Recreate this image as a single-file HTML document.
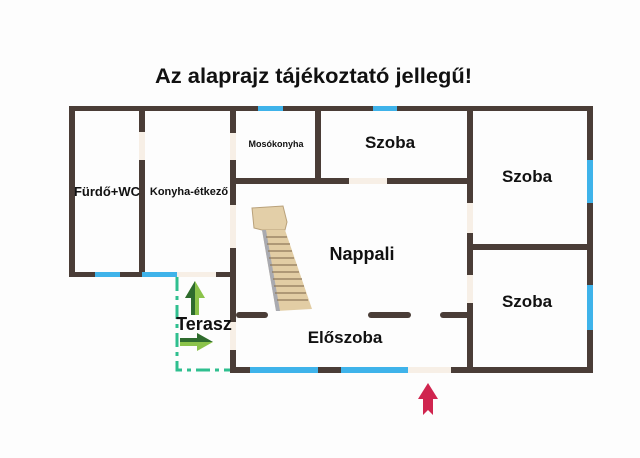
<!DOCTYPE html>
<html><head><meta charset="utf-8"><style>
html,body{margin:0;padding:0;background:#fdfdfd;}
svg{display:block;}
text{font-family:"Liberation Sans",Arial,sans-serif;font-weight:bold;fill:#111;}
</style></head><body>
<svg width="640" height="458" viewBox="0 0 640 458" xmlns="http://www.w3.org/2000/svg">
<rect width="640" height="458" fill="#fdfdfd"/>
<text x="155" y="83" font-size="21" textLength="317" lengthAdjust="spacingAndGlyphs">Az alaprajz tájékoztató jellegű!</text>
<g fill="#4a3d37">
<rect x="69" y="106" width="524" height="5"/>
<rect x="69" y="106" width="6" height="171"/>
<rect x="69" y="272" width="167" height="5"/>
<rect x="139" y="106" width="6" height="171"/>
<rect x="230" y="106" width="6" height="267"/>
<rect x="230" y="178" width="243" height="6"/>
<rect x="315" y="106" width="6" height="78"/>
<rect x="467" y="106" width="6" height="267"/>
<rect x="587" y="106" width="6" height="267"/>
<rect x="467" y="244" width="126" height="6"/>
<rect x="230" y="367" width="363" height="6"/>
<rect x="236" y="312" width="32" height="6" rx="3"/>
<rect x="368" y="312" width="43" height="6" rx="3"/>
<rect x="440" y="312" width="30" height="6" rx="3"/>
</g>
<g fill="#f7efe6">
<rect x="139" y="132" width="6" height="28"/>
<rect x="230" y="133" width="6" height="27"/>
<rect x="230" y="205" width="6" height="43"/>
<rect x="230" y="322" width="6" height="28"/>
<rect x="349" y="178" width="38" height="6"/>
<rect x="467" y="203" width="6" height="30"/>
<rect x="467" y="275" width="6" height="28"/>
<rect x="177" y="272" width="39" height="5"/>
<rect x="408" y="367" width="43" height="6"/>
</g>
<g fill="#3fb3ea">
<rect x="258" y="106" width="25" height="5"/>
<rect x="373" y="106" width="24" height="5"/>
<rect x="587" y="160" width="6" height="43"/>
<rect x="587" y="285" width="6" height="45"/>
<rect x="250" y="367" width="68" height="6"/>
<rect x="341" y="367" width="67" height="6"/>
<rect x="95" y="272" width="25" height="5"/>
<rect x="142" y="272" width="35" height="5"/>
</g>
<polyline points="177,277 177,370 230,370" fill="none" stroke="#2fbf8f" stroke-width="3" stroke-dasharray="14,5,4,5"/>
<polygon points="252,208 283,206 287,222 285,230 262,230 254,228" fill="#e3cfa8" stroke="#b9a17a" stroke-width="1"/>
<polygon points="262,230 285,230 312,309 276,311" fill="#e2cda4"/>
<polygon points="262,230 266,230 280,311 276,311" fill="#a9aab0"/>
<g stroke="#8f7a5a" stroke-width="1.3">
<line x1="266" y1="237" x2="287" y2="237"/><line x1="267" y1="244" x2="290" y2="244"/>
<line x1="268" y1="251" x2="292" y2="251"/><line x1="269" y1="258" x2="294" y2="258"/>
<line x1="270" y1="265" x2="297" y2="265"/><line x1="272" y1="272" x2="299" y2="272"/>
<line x1="273" y1="279" x2="302" y2="279"/><line x1="274" y1="286" x2="304" y2="286"/>
<line x1="275" y1="293" x2="306" y2="293"/><line x1="277" y1="300" x2="308" y2="300"/>
</g>
<polygon points="195,281 185,298 191,298 191,315 199,315 199,298 205,298" fill="#8bc34a"/>
<polygon points="195,281 185,298 191,298 191,315 195,315" fill="#2e6b2e"/>
<polygon points="213,342 197,333 197,338 180,338 180,346 197,346 197,351" fill="#8bc34a"/>
<polygon points="213,342 197,333 197,338 180,338 180,342" fill="#2e6b2e"/>
<polygon points="428,383 418,399 423,399 423,415 428,410 433,415 433,399 438,399" fill="#d0254f"/>
<text x="107" y="196" font-size="13" text-anchor="middle">Fürdő+WC</text>
<text x="189" y="195" font-size="11" text-anchor="middle">Konyha-étkező</text>
<text x="276" y="147" font-size="9" text-anchor="middle">Mosókonyha</text>
<text x="390" y="148" font-size="17" text-anchor="middle">Szoba</text>
<text x="527" y="182" font-size="17" text-anchor="middle">Szoba</text>
<text x="362" y="260" font-size="18" text-anchor="middle">Nappali</text>
<text x="527" y="307" font-size="17" text-anchor="middle">Szoba</text>
<text x="345" y="343" font-size="17" text-anchor="middle">Előszoba</text>
<text x="204" y="330" font-size="18" text-anchor="middle">Terasz</text>
</svg>
</body></html>
